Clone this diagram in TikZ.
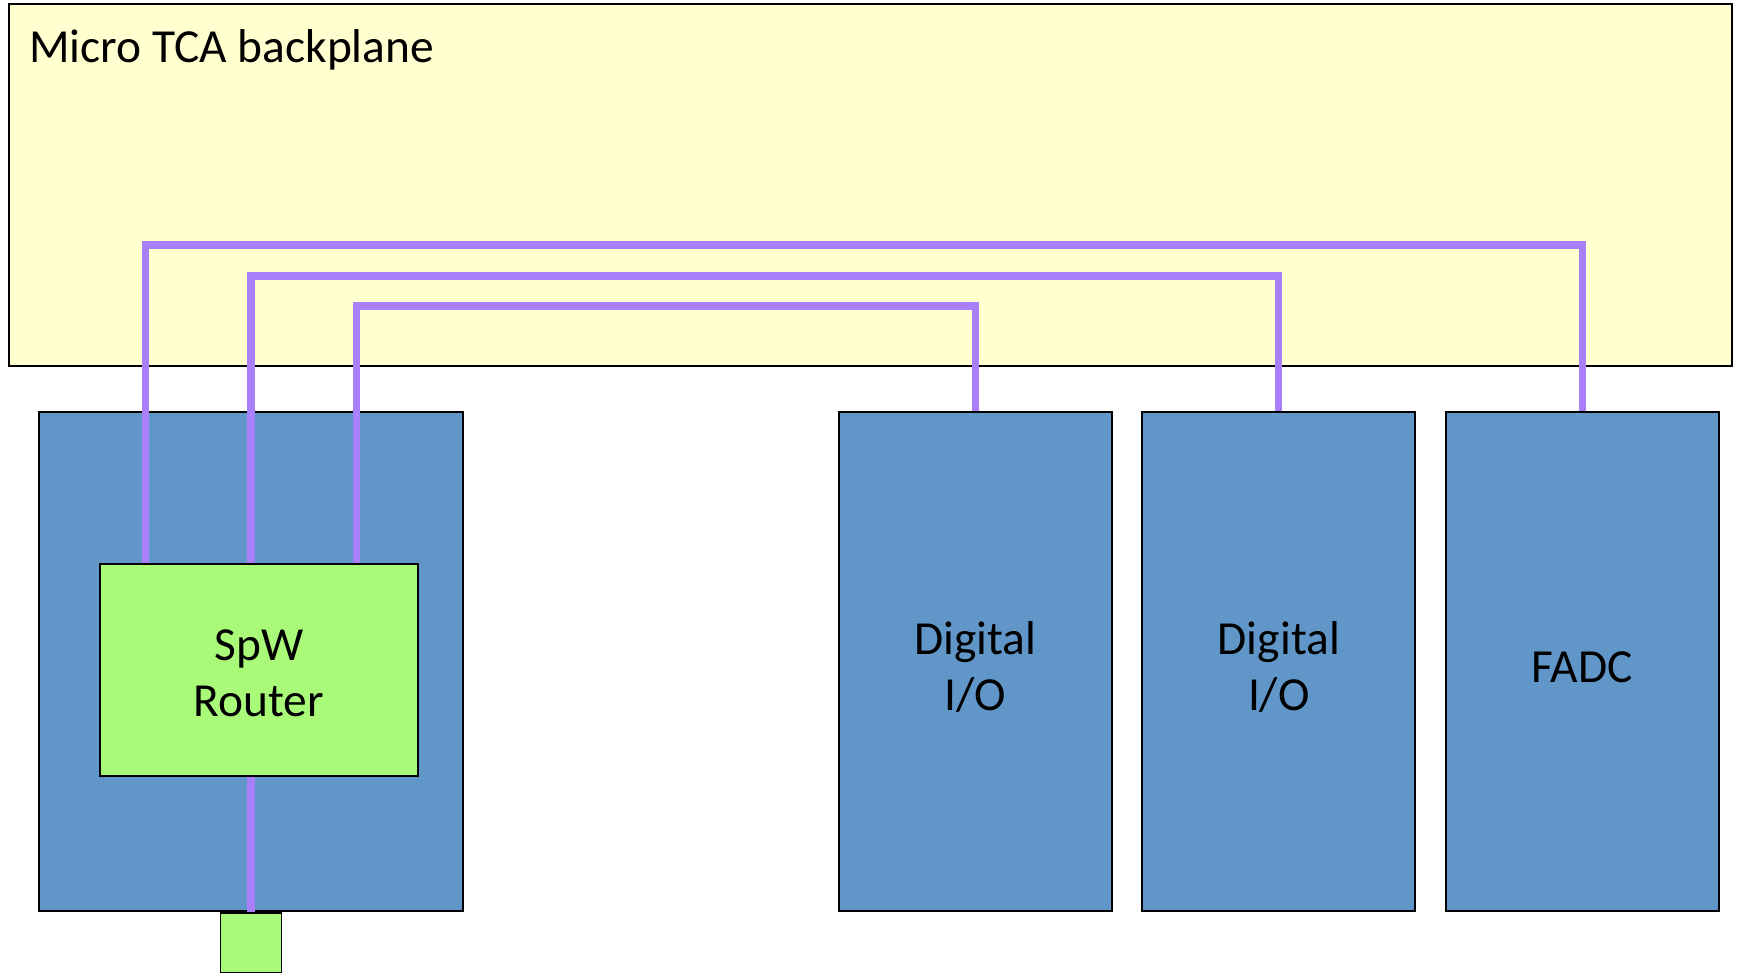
\documentclass[tikz,border=0pt]{standalone}
\usepackage{fontspec}
\setmainfont{Carlito}
\usetikzlibrary{positioning}

\definecolor{planeyellow}{RGB}{255,255,208}
\definecolor{cardblue}{RGB}{97,150,200}
\definecolor{routergreen}{RGB}{170,250,122}
\definecolor{linkpurple}{RGB}{170,128,250}

\begin{document}
\begin{tikzpicture}[
    x=0.02cm, y=-0.02cm,
    every node/.style={font=\fontsize{27}{32}\selectfont, align=center},
    lowered/.style={execute at begin node={\rule{0pt}{#1}}},
    plane/.style={draw, line width=1.1pt, fill=planeyellow, minimum width=34.46cm, minimum height=7.24cm},
    card/.style={draw, line width=1.1pt, fill=cardblue, minimum width=5.46cm, minimum height=9.98cm},
    chip/.style={draw, line width=1.1pt, fill=routergreen},
    link/.style={line width=4pt, linkpurple, line join=miter}
]
\useasboundingbox (0,0) rectangle (1739,973);

% Nodes
\node[plane] (backplane) at (870.5,185) {};
\node[anchor=base west] (title) at (23,63) {Micro TCA backplane};

\node[card, minimum width=8.48cm] (slot) at (251,661.5) {};
\node[chip, minimum width=6.36cm, minimum height=4.24cm, lowered=53pt] (router) at (259,670) {SpW\\Router};
\node[chip, minimum width=1.22cm, minimum height=1.2cm, below=0pt of slot] (port) {};

\node[card, lowered=57pt] (dio1) at (975.5,661.5) {Digital\\I/O};
\node[card, lowered=57pt, right=0.57cm of dio1] (dio2) {Digital\\I/O};
\node[card, lowered=24pt, right=0.57cm of dio2] (fadc) {FADC};

% Bus rails on the backplane
\coordinate (rail1) at (0,245);
\coordinate (rail2) at (0,276);
\coordinate (rail3) at (0,306);

% Links
\draw[link] ([xshift=-2.12cm]slot.north |- router.north) |- (fadc.north |- rail1) -- (fadc.north);
\draw[link] (slot.north |- router.north) |- (dio2.north |- rail2) -- (dio2.north);
\draw[link] ([xshift=2.12cm]slot.north |- router.north) |- (dio1.north |- rail3) -- (dio1.north);
\draw[link] (port.north |- router.south) -- (port.north);

\end{tikzpicture}
\end{document}
